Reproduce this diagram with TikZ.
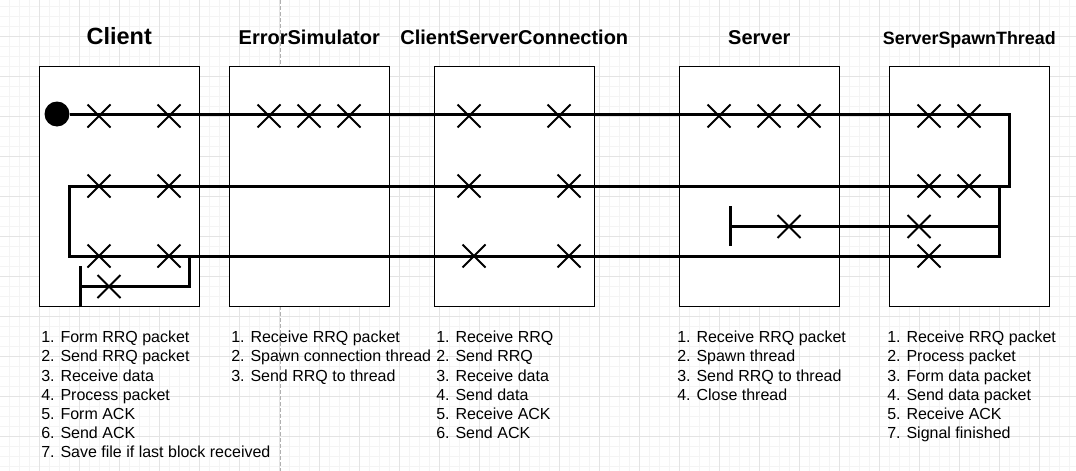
\documentclass[tikz,border=0pt]{standalone}
\usepackage{fontspec}
\setmainfont{Liberation Sans}
\usepackage{tikz}
\usetikzlibrary{arrows.meta,positioning,shapes.misc}
\definecolor{ink}{HTML}{000000}
\definecolor{gridmaj}{HTML}{E4E4E4}
\definecolor{gridmin}{HTML}{F4F4F4}
\definecolor{guide}{HTML}{B0B0B0}
\tikzset{
  lane/.style={draw=ink,fill=white,line width=0.75pt,minimum width=120pt,minimum height=180pt,inner sep=0pt},
  title/.style={font=\bfseries\fontsize{15}{18}\selectfont,anchor=base,inner sep=0pt},
  steps/.style={font=\fontsize{12}{14.33}\selectfont,align=left,anchor=north west,inner sep=0pt},
  thread/.style={draw=ink,line width=2.25pt},
  endbar/.style={thread,-{Bar[width=29.5pt]}},
  xmark/.style={cross out,draw=ink,line width=1.5pt,minimum size=15.75pt,inner sep=0pt},
  dot/.style={circle,fill=ink,minimum size=18.75pt,inner sep=0pt},
}
\begin{document}
\begin{tikzpicture}[x=0.75pt,y=-0.75pt]
\useasboundingbox[fill=white] (0,0) rectangle (1076,471);
% background grid
\foreach \g in {9.3,19.3,...,1069.3} \draw[gridmin,line width=0.75pt] (\g,0) -- (\g,471);
\foreach \g in {6.7,16.7,...,466.7} \draw[gridmin,line width=0.75pt] (0,\g) -- (1076,\g);
\foreach \g in {39.3,79.3,...,1039.3} \draw[gridmaj,line width=0.75pt] (\g,0) -- (\g,471);
\foreach \g in {36.7,76.7,...,436.7} \draw[gridmaj,line width=0.75pt] (0,\g) -- (1076,\g);
\draw[guide,line width=0.75pt,dash pattern=on 3pt off 1.5pt] (280,0) -- (280,471);

% lanes
\node[lane] (client) at (119.3,186) {};
\node[lane] (errsim) at (309.3,186) {};
\node[lane] (conn) at (514.3,186) {};
\node[lane] (server) at (759.3,186) {};
\node[lane] (spawn) at (969.3,186) {};

\node[title,font=\bfseries\fontsize{17.6}{21}\selectfont] (client-t) at (119.3,44.8) {Client};
\node[title] (errsim-t) at (309.3,44) {ErrorSimulator};
\node[title] (conn-t) at (514.3,44) {ClientServerConnection};
\node[title] (server-t) at (759.3,44) {Server};
\node[title,font=\bfseries\fontsize{13.4}{16}\selectfont] (spawn-t) at (969.3,44) {ServerSpawnThread};

% thread of control
\node[dot] (start) at (57,114) {};
\coordinate (turn1) at (1009,186);
\coordinate (turn2) at (69,256);
\coordinate (join) at (999,186);
\draw[thread] (start) -| (turn1) -| (turn2) -| (join);

\coordinate (cfork) at (189,256);
\coordinate (cend) at (79,286);
\draw[endbar] (cfork) |- (cend);
\coordinate (sfork) at (999,226);
\coordinate (send) at (729,226);
\draw[endbar] (sfork) -- (send);

% steps
\foreach \x [count=\i] in {99,169,269,309,349,469,559,719,769,809,929,969}
  \node[xmark] (a\i) at (\x,116) {};
\foreach \x [count=\i] in {99,169,469,569,929,969}
  \node[xmark] (b\i) at (\x,186) {};
\foreach \x [count=\i] in {99,169,474,569,929}
  \node[xmark] (c\i) at (\x,256) {};
\foreach \x [count=\i] in {789,919}
  \node[xmark] (d\i) at (\x,226.5) {};
\node[xmark] (e1) at (109,286.5) {};

% descriptions
\node[steps] (client-s) at (41,331) {1. Form RRQ packet\\2. Send RRQ packet\\3. Receive data\\4. Process packet\\5. Form ACK\\6. Send ACK\\7. Save file if last block received};
\node[steps] (errsim-s) at (231,331) {1. Receive RRQ packet\\2. Spawn connection thread\\3. Send RRQ to thread};
\node[steps] (conn-s) at (436,331) {1. Receive RRQ\\2. Send RRQ\\3. Receive data\\4. Send data\\5. Receive ACK\\6. Send ACK};
\node[steps] (server-s) at (677,331) {1. Receive RRQ packet\\2. Spawn thread\\3. Send RRQ to thread\\4. Close thread};
\node[steps] (spawn-s) at (887,331) {1. Receive RRQ packet\\2. Process packet\\3. Form data packet\\4. Send data packet\\5. Receive ACK\\7. Signal finished};
\end{tikzpicture}
\end{document}
